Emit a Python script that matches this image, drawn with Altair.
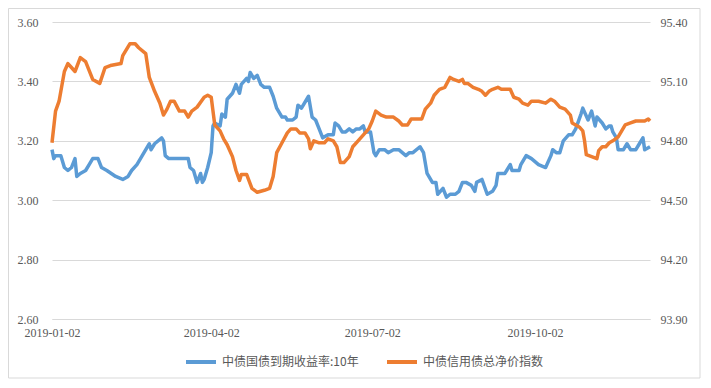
import altair as alt
import pandas as pd

blue_name = "中债国债到期收益率:10年"
orange_name = "中债信用债总净价指数"

# days since 2019-01-02
blue_days = [0, 1, 2, 5, 7, 9, 11, 13, 14, 16, 19, 21, 23, 26, 28, 31, 36, 40, 43, 45,
             48, 51, 53, 55, 56, 58, 62, 63, 64, 66, 69, 71, 73, 77, 78, 80, 82, 84, 85, 86,
             88, 90, 91, 92, 95, 96, 98, 99, 102, 104, 106, 107, 110, 111, 112, 114, 116, 118, 120, 123,
             125, 127, 130, 132, 133, 136, 138, 139, 141, 145, 147, 149, 151, 153, 156, 159, 160, 162, 164, 166,
             168, 170, 172, 174, 176, 177, 179, 180, 182, 183, 185, 188, 190, 193, 196, 198, 200, 202, 204, 208,
             210, 212, 215, 217, 218, 221, 223, 225, 228, 230, 232, 234, 237, 239, 240, 243, 246, 249, 251, 252,
             256, 257, 259, 260, 264, 265, 268, 271, 275, 279, 282, 283, 285, 287, 289, 292, 294, 296, 299, 300,
             303, 305, 307, 308, 311, 313, 315, 316, 317, 319, 320, 323, 325, 327, 330, 332, 334, 335, 338]
blue_values = [3.17, 3.14, 3.15, 3.15, 3.11, 3.10, 3.11, 3.14, 3.08, 3.09, 3.10, 3.12, 3.14, 3.14, 3.11, 3.10, 3.08, 3.07, 3.08, 3.10,
               3.12, 3.15, 3.17, 3.19, 3.17, 3.19, 3.21, 3.20, 3.15, 3.14, 3.14, 3.14, 3.14, 3.14, 3.11, 3.10, 3.06, 3.09, 3.06, 3.07,
               3.11, 3.16, 3.25, 3.26, 3.25, 3.29, 3.28, 3.34, 3.36, 3.39, 3.36, 3.39, 3.41, 3.40, 3.43, 3.41, 3.42, 3.39, 3.38, 3.38,
               3.35, 3.31, 3.28, 3.28, 3.27, 3.27, 3.28, 3.32, 3.31, 3.35, 3.28, 3.27, 3.24, 3.21, 3.22, 3.22, 3.26, 3.25, 3.23, 3.23,
               3.24, 3.23, 3.24, 3.24, 3.25, 3.23, 3.23, 3.23, 3.16, 3.15, 3.17, 3.17, 3.16, 3.17, 3.17, 3.16, 3.15, 3.16, 3.16, 3.18,
               3.16, 3.09, 3.06, 3.06, 3.02, 3.04, 3.01, 3.02, 3.02, 3.03, 3.06, 3.06, 3.05, 3.03, 3.06, 3.07, 3.02, 3.03, 3.05, 3.09,
               3.09, 3.10, 3.12, 3.10, 3.10, 3.12, 3.15, 3.14, 3.12, 3.11, 3.15, 3.17, 3.16, 3.16, 3.20, 3.22, 3.22, 3.24, 3.29, 3.31,
               3.27, 3.30, 3.25, 3.28, 3.26, 3.24, 3.25, 3.25, 3.23, 3.21, 3.17, 3.17, 3.19, 3.17, 3.17, 3.19, 3.21, 3.17, 3.18]

orange_days = [0, 2, 4, 5, 7, 9, 11, 13, 16, 19, 23, 27, 30, 33, 39, 40, 44, 47, 49, 53,
               55, 58, 61, 63, 65, 67, 69, 72, 75, 77, 79, 82, 86, 88, 90, 91, 92, 95, 97, 99,
               102, 104, 106, 107, 110, 113, 116, 120, 123, 125, 127, 130, 133, 135, 138, 140, 143, 145, 146, 148,
               151, 154, 156, 159, 161, 163, 165, 168, 170, 173, 176, 179, 181, 183, 186, 189, 193, 196, 198, 201,
               203, 206, 209, 211, 214, 216, 219, 222, 225, 227, 230, 232, 233, 235, 238, 241, 243, 245, 247, 249,
               252, 254, 256, 259, 261, 264, 266, 269, 271, 275, 279, 282, 284, 287, 290, 293, 294, 298, 300, 301,
               302, 305, 308, 309, 311, 313, 315, 317, 320, 322, 324, 327, 330, 333, 335, 337, 338]
orange_values = [94.79, 94.95, 95.00, 95.05, 95.15, 95.19, 95.17, 95.15, 95.22, 95.20, 95.11, 95.09, 95.17, 95.18, 95.19, 95.23, 95.29, 95.29, 95.27, 95.24,
                 95.12, 95.05, 94.99, 94.93, 94.96, 95.00, 95.00, 94.95, 94.95, 94.92, 94.95, 94.97, 95.02, 95.03, 95.02, 94.95, 94.88, 94.85, 94.81, 94.78,
                 94.72, 94.65, 94.60, 94.63, 94.63, 94.56, 94.54, 94.55, 94.56, 94.62, 94.74, 94.79, 94.84, 94.86, 94.86, 94.84, 94.84, 94.81, 94.76, 94.80,
                 94.79, 94.79, 94.81, 94.80, 94.77, 94.69, 94.69, 94.72, 94.77, 94.80, 94.83, 94.86, 94.90, 94.95, 94.93, 94.92, 94.92, 94.90, 94.88, 94.88,
                 94.91, 94.91, 94.91, 94.96, 94.99, 95.03, 95.06, 95.07, 95.12, 95.11, 95.10, 95.11, 95.09, 95.09, 95.07, 95.06, 95.05, 95.03, 95.05, 95.06,
                 95.07, 95.06, 95.06, 95.06, 95.02, 95.01, 94.99, 94.98, 95.00, 95.00, 94.99, 95.01, 95.00, 94.97, 94.96, 94.93, 94.89, 94.87, 94.85, 94.80,
                 94.73, 94.72, 94.71, 94.75, 94.77, 94.77, 94.79, 94.80, 94.82, 94.85, 94.88, 94.89, 94.90, 94.90, 94.90, 94.91, 94.90]

left_ticks = [2.6, 2.8, 3.0, 3.2, 3.4, 3.6]
right_ticks = [93.9, 94.2, 94.5, 94.8, 95.1, 95.4]
x_tick_dates = [(2019, 1, 2), (2019, 4, 2), (2019, 7, 2), (2019, 10, 2)]

start = pd.Timestamp("2019-01-02")
df_b = pd.DataFrame({"date": start + pd.to_timedelta(blue_days, unit="D"),
                     "value": blue_values, "series": blue_name})
df_o = pd.DataFrame({"date": start + pd.to_timedelta(orange_days, unit="D"),
                     "value": orange_values, "series": orange_name})

BLUE = "#5B9BD5"
ORANGE = "#ED7D31"
GRID = "#D9D9D9"

x_enc = alt.X(
    "date:T",
    scale=alt.Scale(domain=[alt.DateTime(year=2019, month=1, date=2),
                            alt.DateTime(year=2019, month=12, date=6)], nice=False),
    axis=alt.Axis(values=[alt.DateTime(year=y, month=m, date=d) for y, m, d in x_tick_dates],
                  format="%Y-%m-%d", title=None, grid=False, ticks=False,
                  domain=True, domainColor=GRID, labelFlush=False, labelPadding=8),
)

color_enc = alt.Color(
    "series:N",
    scale=alt.Scale(domain=[blue_name, orange_name], range=[BLUE, ORANGE]),
    legend=alt.Legend(title=None, orient="none", legendX=132, legendY=323,
                      direction="horizontal", symbolType="stroke", symbolSize=900,
                      symbolStrokeWidth=4, labelFont="Noto Sans CJK SC", labelFontSize=12,
                      labelColor="#595959", columnPadding=20, labelOffset=4),
)

border = alt.Chart(pd.DataFrame({"a": [0]})).mark_rect(
    filled=False, stroke=GRID, strokeWidth=1
).encode(x=alt.value(-43.5), x2=alt.value(648), y=alt.value(-13.5), y2=alt.value(356))

blue = alt.Chart(df_b).mark_line(strokeWidth=3.5, strokeJoin="round").encode(
    x=x_enc,
    y=alt.Y("value:Q", scale=alt.Scale(domain=[2.6, 3.6], nice=False, zero=False),
            axis=alt.Axis(values=left_ticks, format=".2f", title=None, orient="left",
                          grid=True, gridColor=GRID, domain=False, ticks=False, labelPadding=14)),
    color=color_enc,
)

orange = alt.Chart(df_o).mark_line(strokeWidth=3.5, strokeJoin="round").encode(
    x=x_enc,
    y=alt.Y("value:Q", scale=alt.Scale(domain=[93.9, 95.4], nice=False, zero=False),
            axis=alt.Axis(values=right_ticks, format=".2f", title=None, orient="right",
                          grid=False, domain=False, ticks=False, labelPadding=10)),
    color=color_enc,
)

chart = alt.layer(border, blue, orange).resolve_scale(y="independent").properties(
    width=598, height=297,
    padding={"left": 44, "top": 14, "right": 52, "bottom": 60},
    autosize=alt.AutoSizeParams(type="none"),
).configure_view(stroke=None).configure_axis(
    labelFont="Liberation Serif", labelFontSize=12, labelColor="#595959"
)

chart.save("out.html", embed_options={"renderer": "svg", "actions": False})
